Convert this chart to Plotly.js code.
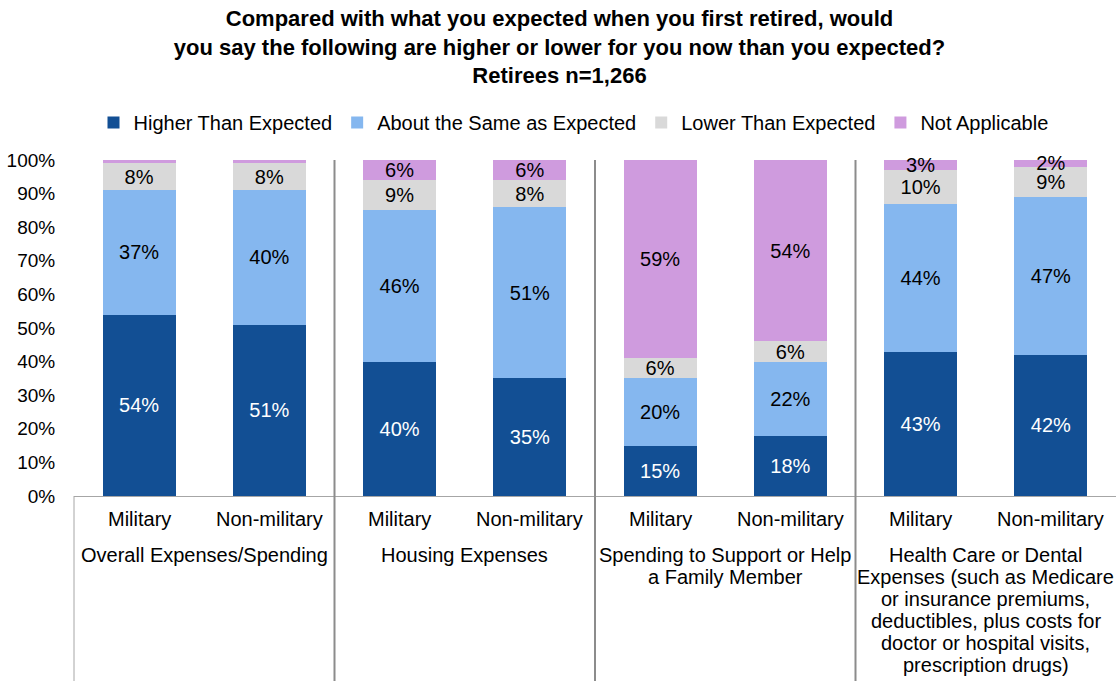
<!DOCTYPE html>
<html>
<head>
<meta charset="utf-8">
<script src="https://cdn.plot.ly/plotly-3.0.1.min.js"></script>
<style>html,body{margin:0;padding:0;background:#fff;}#chart{width:1119px;height:681px;}</style>
</head>
<body>
<div id="chart"></div>
<script>
// ---- data ----
var barLabels = ['Military','Non-military','Military','Non-military','Military','Non-military','Military','Non-military'];
var groupLabels = [
  ['Overall Expenses/Spending'],
  ['Housing Expenses'],
  ['Spending to Support or Help', 'a Family Member'],
  ['Health Care or Dental', 'Expenses (such as Medicare', 'or insurance premiums,', 'deductibles, plus costs for', 'doctor or hospital visits,', 'prescription drugs)']
];
var seriesNames = ['Higher Than Expected','About the Same as Expected','Lower Than Expected','Not Applicable'];
// bar heights (%)
var higher = [54, 51, 40, 35, 15, 18, 43, 42];
var same   = [37, 40, 45, 51, 20, 22, 44, 47];
var lower  = [ 8,  8,  9,  8,  6,  6, 10,  9];
var notApp = [ 1,  1,  6,  6, 59, 54,  3,  2];
// printed labels
var higherText = ['54%','51%','40%','35%','15%','18%','43%','42%'];
var sameText   = ['37%','40%','46%','51%','20%','22%','44%','47%'];
var lowerText  = ['8%','8%','9%','8%','6%','6%','10%','9%'];
var notAppText = ['','','6%','6%','59%','54%','3%','2%'];
var yTicks = [0,10,20,30,40,50,60,70,80,90,100];

// ---- styling ----
var colors = ['#124F94','#85B7EF','#D9D9D9','#CF9BDE'];
var textColors = ['#FFFFFF','#000000','#000000','#000000'];
var FONT = 'Liberation Sans, Arial, sans-serif';
var FS = 20;
var xIdx = barLabels.map(function(_, i){ return i; });
var vals = [higher, same, lower, notApp];
var texts = [higherText, sameText, lowerText, notAppText];

var traces = seriesNames.map(function(name, k){
  return {
    type: 'bar', name: name, x: xIdx, y: vals[k], text: texts[k],
    textposition: 'inside', insidetextanchor: 'middle', textangle: 0,
    constraintext: 'none', cliponaxis: false,
    textfont: {family: FONT, size: FS, color: textColors[k]},
    marker: {color: colors[k], line: {width: 0}},
    width: 0.56, hoverinfo: 'skip'
  };
});

// plot area: x 74..1116, y 160..496
var plotTop = 160, plotBottom = 496, plotH = plotBottom - plotTop;
function py(pix){ return (plotBottom - pix) / plotH; }
var nBars = barLabels.length;
function px(idx){ return (idx + 0.5) / nBars; }

var annotations = [];
barLabels.forEach(function(lbl, i){
  annotations.push({xref:'paper', yref:'paper', x: px(i), y: py(519), text: lbl,
    showarrow:false, xanchor:'center', yanchor:'middle',
    font:{family:FONT, size:FS, color:'#000'}});
});
groupLabels.forEach(function(lines, g){
  lines.forEach(function(line, j){
    annotations.push({xref:'paper', yref:'paper', x: px(2*g + 0.5), y: py(555 + 22*j), text: line,
      showarrow:false, xanchor:'center', yanchor:'middle', align:'center',
      font:{family:FONT, size:FS, color:'#000'}});
  });
});

var shapes = [];
shapes.push({type:'line', xref:'paper', yref:'paper', x0:0, x1:0, y0:0, y1:py(681),
  line:{color:'#A6A6A6', width:1}});
[1,2,3].forEach(function(g){
  var xp = px(2*g - 0.5);
  shapes.push({type:'line', xref:'paper', yref:'paper', x0:xp, x1:xp, y0:1, y1:py(681),
    line:{color:'#8C8C8C', width:2}});
});

var layout = {
  width: 1119, height: 681,
  margin: {l:74, r:3, t:160, b:185, pad:0},
  paper_bgcolor:'#fff', plot_bgcolor:'#fff',
  barmode: 'stack',
  showlegend: true,
  title: {
    text: '<b>Compared with what you expected when you first retired, would<br>you say the following are higher or lower for you now than you expected?<br>Retirees n=1,266</b>',
    font: {family: FONT, size: 22, color:'#000'},
    x: 0.5, xref:'container', xanchor:'center',
    y: 1 - 26/681, yref:'container', yanchor:'top'
  },
  legend: {
    orientation:'h', x:0.5 + 14/1119, xref:'container', xanchor:'center',
    y: 1 - 103/681, yref:'container', yanchor:'top',
    font:{family:FONT, size:FS, color:'#000'},
    traceorder:'normal', itemwidth:30
  },
  xaxis: {
    range:[-0.5, nBars - 0.5], showticklabels:false, ticks:'',
    showgrid:false, zeroline:false, showline:true, linecolor:'#A6A6A6', linewidth:1,
    fixedrange:true
  },
  yaxis: {
    range:[0,100], tickvals:yTicks, ticktext: yTicks.map(function(v){return v+'%';}),
    ticks:'outside', ticklen:14, tickcolor:'rgba(0,0,0,0)',
    showgrid:false, zeroline:false, showline:false,
    tickfont:{family:FONT, size:19, color:'#000'}, fixedrange:true
  },
  annotations: annotations,
  shapes: shapes
};

Plotly.newPlot('chart', traces, layout, {displayModeBar:false, staticPlot:true});
</script>
</body>
</html>
